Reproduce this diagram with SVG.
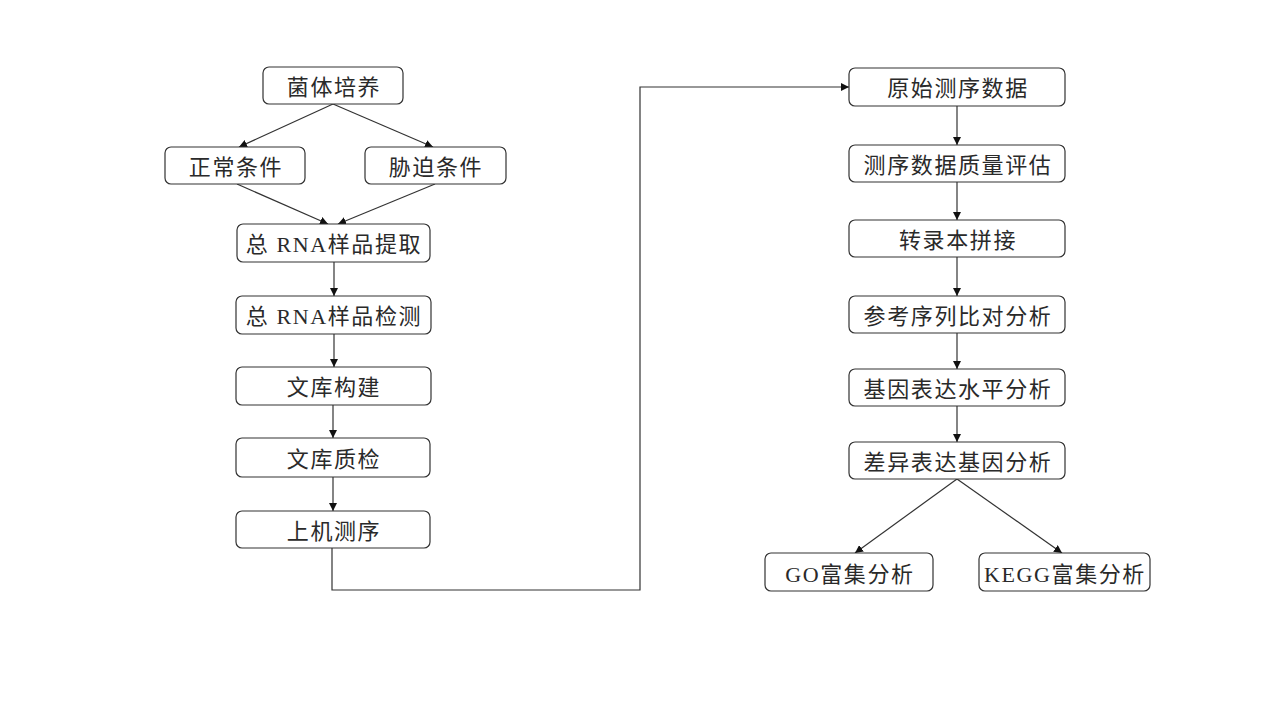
<svg xmlns="http://www.w3.org/2000/svg" width="1269" height="714" viewBox="0 0 1269 714">
<style>
.n rect{fill:#fff;stroke:#333;stroke-width:1.2}
.n text{font-family:"Liberation Serif","Noto Sans CJK SC",serif;font-size:22px;letter-spacing:1.6px;fill:#2a2a2a;text-anchor:middle;dominant-baseline:central}
.c path{fill:none;stroke:#333;stroke-width:1.2}
</style>
<defs>
<marker id="ah" viewBox="0 0 10 10" refX="10" refY="5" markerWidth="8" markerHeight="8" markerUnits="userSpaceOnUse" orient="auto">
<path d="M0,0 L10,5 L0,10 z" fill="#111"/>
</marker>
</defs>
<rect width="1269" height="714" fill="#fff"/>
<g class="c">
<path d="M333,104 L239,147" marker-end="url(#ah)"/>
<path d="M333,104 L433,147" marker-end="url(#ah)"/>
<path d="M237,184 L328,224" marker-end="url(#ah)"/>
<path d="M435,184 L338,224" marker-end="url(#ah)"/>
<path d="M334,262 L334,296" marker-end="url(#ah)"/>
<path d="M334,334 L334,367" marker-end="url(#ah)"/>
<path d="M333,405 L333,438" marker-end="url(#ah)"/>
<path d="M333,477 L333,511" marker-end="url(#ah)"/>
<path d="M332,548 L332,590 L640,590 L640,87 L849,87" marker-end="url(#ah)"/>
<path d="M957,106 L957,145" marker-end="url(#ah)"/>
<path d="M957,182 L957,220" marker-end="url(#ah)"/>
<path d="M957,257 L957,296" marker-end="url(#ah)"/>
<path d="M957,333 L957,369" marker-end="url(#ah)"/>
<path d="M957,406 L957,442" marker-end="url(#ah)"/>
<path d="M957,479 L855,553" marker-end="url(#ah)"/>
<path d="M957,479 L1062,553" marker-end="url(#ah)"/>
</g>
<g id="n1" class="n"><rect x="263" y="67" width="140" height="37" rx="6"/><text x="334" y="87">菌体培养</text></g>
<g id="n2" class="n"><rect x="165" y="147" width="140" height="37" rx="6"/><text x="236" y="167">正常条件</text></g>
<g id="n3" class="n"><rect x="365" y="147" width="141" height="37" rx="6"/><text x="436" y="167">胁迫条件</text></g>
<g id="n4" class="n"><rect x="237" y="224" width="193" height="38" rx="6"/><text x="334" y="244">总 RNA样品提取</text></g>
<g id="n5" class="n"><rect x="236" y="296" width="195" height="38" rx="6"/><text x="334" y="316">总 RNA样品检测</text></g>
<g id="n6" class="n"><rect x="236" y="367" width="195" height="38" rx="6"/><text x="334" y="387">文库构建</text></g>
<g id="n7" class="n"><rect x="236" y="438" width="194" height="39" rx="6"/><text x="334" y="459">文库质检</text></g>
<g id="n8" class="n"><rect x="236" y="511" width="194" height="37" rx="6"/><text x="334" y="531">上机测序</text></g>
<g id="n9" class="n"><rect x="849" y="68" width="216" height="38" rx="6"/><text x="958" y="88">原始测序数据</text></g>
<g id="n10" class="n"><rect x="849" y="145" width="216" height="37" rx="6"/><text x="958" y="165">测序数据质量评估</text></g>
<g id="n11" class="n"><rect x="849" y="220" width="216" height="37" rx="6"/><text x="958" y="240">转录本拼接</text></g>
<g id="n12" class="n"><rect x="849" y="296" width="216" height="37" rx="6"/><text x="958" y="316">参考序列比对分析</text></g>
<g id="n13" class="n"><rect x="849" y="369" width="216" height="37" rx="6"/><text x="958" y="389">基因表达水平分析</text></g>
<g id="n14" class="n"><rect x="849" y="442" width="216" height="37" rx="6"/><text x="958" y="462">差异表达基因分析</text></g>
<g id="n15" class="n"><rect x="765" y="553" width="168" height="38" rx="6"/><text x="850" y="574">GO富集分析</text></g>
<g id="n16" class="n"><rect x="979" y="553" width="171" height="38" rx="6"/><text x="1065" y="574">KEGG富集分析</text></g>
</svg>
